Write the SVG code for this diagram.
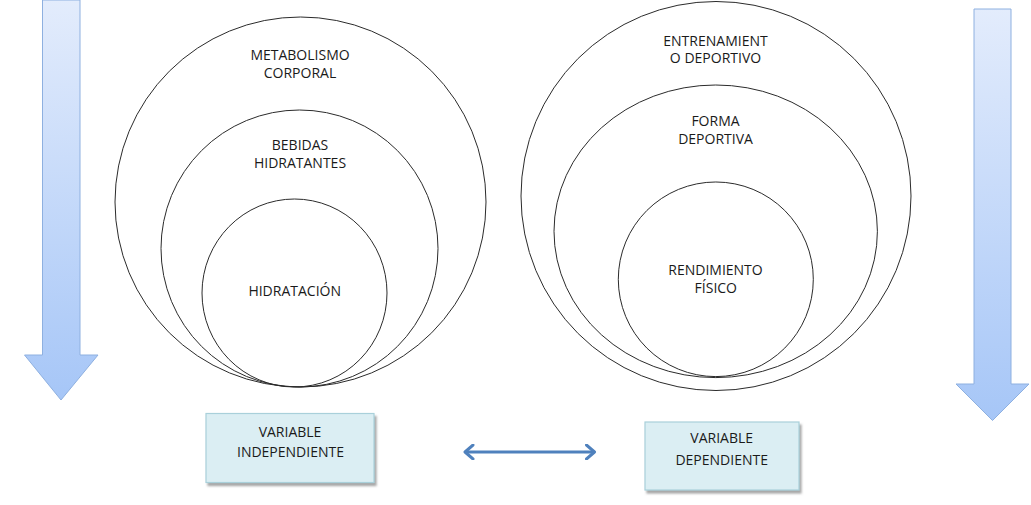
<svg xmlns="http://www.w3.org/2000/svg" width="1031" height="505" viewBox="0 0 1031 505">
<defs>
<linearGradient id="ag" x1="0" y1="0" x2="0" y2="1">
<stop offset="0" stop-color="#e3ecfc"/>
<stop offset="1" stop-color="#a6c6f7"/>
</linearGradient>
<filter id="sh" x="-10%" y="-10%" width="130%" height="140%">
<feDropShadow dx="2" dy="3" stdDeviation="1" flood-color="#808080" flood-opacity="0.7"/>
</filter>
<marker id="ah" viewBox="0 0 12 16" refX="10" refY="8" markerWidth="12" markerHeight="16" markerUnits="userSpaceOnUse" orient="auto-start-reverse">
<path d="M2,1 L10,8 L2,15" fill="none" stroke="#4f81bd" stroke-width="3" stroke-linecap="round" stroke-linejoin="round"/>
</marker>
<style>
.c{fill:none;stroke:#2b2b2b;stroke-width:1}
.t{font-family:"Open Sans","Liberation Sans",sans-serif;font-size:14px;fill:#1a1a1a;text-anchor:middle}
.arr{fill:url(#ag);stroke:#8eb0e0;stroke-width:1}
.box{fill:#dbeef3;stroke:#a9d0da;stroke-width:1.2;filter:url(#sh)}
</style>
</defs>
<rect width="1031" height="505" fill="#ffffff"/>
<g id="arrow-left">
<path class="arr" d="M42.5,0 L80,0 L80,355 L98,355 L61,400 L24.5,355 L42.5,355 Z"/>
</g>
<g id="arrow-right">
<path class="arr" d="M974,9 L1011,9 L1011,384 L1029,384 L992.5,420.5 L956,384 L974,384 Z"/>
</g>
<g id="metabolismo">
<ellipse class="c" cx="300.5" cy="202" rx="185.5" ry="185"/>
<text class="t" x="300" y="60">METABOLISMO</text>
<text class="t" x="300" y="77.5">CORPORAL</text>
</g>
<g id="bebidas">
<ellipse class="c" cx="299.5" cy="248.5" rx="138.5" ry="138.5"/>
<text class="t" x="300" y="149.5">BEBIDAS</text>
<text class="t" x="300" y="167.5">HIDRATANTES</text>
</g>
<g id="hidratacion">
<ellipse class="c" cx="294.5" cy="293" rx="92.5" ry="94"/>
<text class="t" x="294.7" y="296">HIDRATACIÓN</text>
</g>
<g id="entrenamiento">
<ellipse class="c" cx="716" cy="196" rx="195" ry="194.5"/>
<text class="t" x="715.5" y="45.7">ENTRENAMIENT</text>
<text class="t" x="715.5" y="63.3">O DEPORTIVO</text>
</g>
<g id="forma">
<ellipse class="c" cx="715.7" cy="231.3" rx="161.7" ry="146.3"/>
<text class="t" x="715.5" y="126">FORMA</text>
<text class="t" x="715.5" y="144">DEPORTIVA</text>
</g>
<g id="rendimiento">
<ellipse class="c" cx="715.8" cy="279.3" rx="97.5" ry="97.3"/>
<text class="t" x="715.5" y="275.3">RENDIMIENTO</text>
<text class="t" x="715.8" y="293.3">FÍSICO</text>
</g>
<g id="var-independiente">
<rect class="box" x="206" y="413.5" width="168" height="69"/>
<text class="t" x="290" y="437.3">VARIABLE</text>
<text class="t" x="290.5" y="456.7">INDEPENDIENTE</text>
</g>
<g id="var-dependiente">
<rect class="box" x="645" y="422" width="154" height="68"/>
<text class="t" x="721.7" y="443.3">VARIABLE</text>
<text class="t" x="721.7" y="465">DEPENDIENTE</text>
</g>
<g id="connectors">
<line x1="465" y1="452" x2="594.5" y2="452" stroke="#4f81bd" stroke-width="3.2" marker-start="url(#ah)" marker-end="url(#ah)"/>
</g>
</svg>
